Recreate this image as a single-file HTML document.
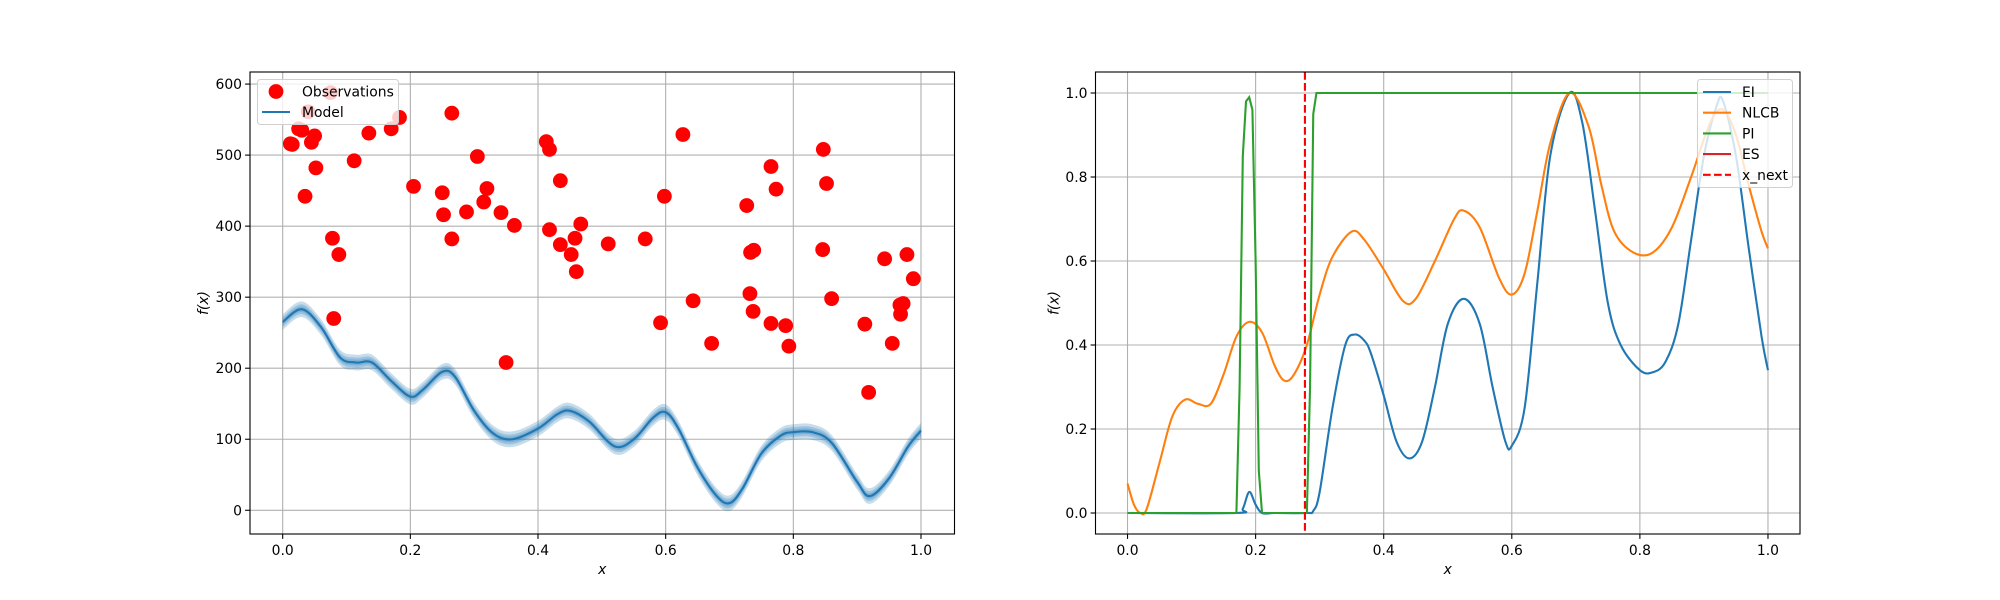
<!DOCTYPE html>
<html><head><meta charset="utf-8"><style>
html,body{margin:0;padding:0;background:#fff}
svg{display:block;font-family:"DejaVu Sans","Liberation Sans",sans-serif}
</style></head><body>
<svg id="fig" width="2000" height="600" viewBox="0 0 2000 600" xmlns="http://www.w3.org/2000/svg">
<g id="left"></g>
<g id="right"></g>
</svg>
<script>
// ---- data: left chart ----
const obsX=[0.012,0.015,0.025,0.03,0.035,0.04,0.045,0.05,0.052,0.075,0.078,0.08,0.088,0.112,0.135,0.17,0.183,0.205,0.25,0.252,0.265,0.265,0.288,0.305,0.315,0.32,0.342,0.35,0.363,0.413,0.418,0.418,0.435,0.435,0.452,0.458,0.46,0.467,0.51,0.568,0.592,0.598,0.627,0.643,0.672,0.727,0.732,0.733,0.738,0.737,0.765,0.765,0.773,0.788,0.793,0.847,0.846,0.852,0.86,0.912,0.918,0.943,0.955,0.967,0.968,0.972,0.978,0.988];
const obsY=[516,515,537,535,442,561,518,527,482,588,383,270,360,492,531,537,553,456,447,416,559,382,420,498,434,453,419,208,401,519,508,395,464,374,360,383,336,403,375,382,264,442,529,295,235,429,305,363,366,280,484,263,452,260,231,508,367,460,298,262,166,354,235,289,276,291,360,326];
const modelX=[0,0.03,0.06,0.09,0.115,0.14,0.17,0.2,0.22,0.25,0.27,0.3,0.33,0.36,0.4,0.43,0.45,0.48,0.52,0.55,0.58,0.6,0.62,0.65,0.68,0.7,0.72,0.75,0.78,0.8,0.83,0.86,0.9,0.92,0.95,0.98,1.0];
const modelY=[265,283,258,215,208,208,182,160,170,195,188,140,108,100,115,135,140,125,90,100,130,138,115,60,20,10,30,80,105,110,110,95,40,20,45,90,112];
const leftXTicks=["0.0","0.2","0.4","0.6","0.8","1.0"];
const leftYTicks=["0","100","200","300","400","500","600"];
// ---- data: right chart ----
const eiX=[0,0.17,0.18,0.19,0.2,0.21,0.23,0.28,0.29,0.3,0.32,0.34,0.355,0.37,0.38,0.4,0.42,0.44,0.46,0.48,0.5,0.525,0.55,0.57,0.59,0.6,0.62,0.64,0.66,0.69,0.71,0.73,0.75,0.77,0.8,0.82,0.84,0.86,0.88,0.9,0.92,0.93,0.95,0.97,0.99,1.0];
const eiY=[0,0,0.01,0.05,0.02,0,0,0,0.005,0.05,0.25,0.4,0.425,0.41,0.38,0.28,0.17,0.13,0.17,0.3,0.45,0.51,0.45,0.3,0.17,0.16,0.25,0.55,0.85,1.0,0.93,0.72,0.5,0.4,0.34,0.335,0.36,0.45,0.65,0.85,0.97,0.98,0.85,0.63,0.42,0.34];
const nlcbX=[0,0.01,0.02,0.03,0.05,0.07,0.09,0.11,0.13,0.15,0.17,0.19,0.21,0.23,0.245,0.26,0.28,0.3,0.32,0.35,0.37,0.4,0.43,0.45,0.48,0.51,0.525,0.55,0.58,0.6,0.62,0.64,0.66,0.69,0.72,0.74,0.76,0.79,0.82,0.85,0.88,0.91,0.93,0.95,0.97,0.99,1.0];
const nlcbY=[0.07,0.02,0,0.01,0.12,0.23,0.27,0.26,0.26,0.33,0.42,0.455,0.43,0.35,0.315,0.33,0.4,0.52,0.61,0.67,0.65,0.58,0.505,0.51,0.6,0.7,0.72,0.68,0.56,0.52,0.57,0.72,0.88,1.0,0.92,0.78,0.67,0.62,0.62,0.68,0.8,0.93,0.96,0.9,0.78,0.67,0.63];
const piX=[0,0.17,0.175,0.18,0.185,0.19,0.195,0.2,0.205,0.21,0.28,0.285,0.29,0.295,1.0];
const piY=[0,0,0.3,0.85,0.98,0.99,0.96,0.6,0.1,0,0,0.3,0.95,1.0,1.0];
const xNext=[0.277];
const rightXTicks=["0.0","0.2","0.4","0.6","0.8","1.0"];
const rightYTicks=["0.0","0.2","0.4","0.6","0.8","1.0"];

const NS="http://www.w3.org/2000/svg";
function mk(parent,tag,attrs){const e=document.createElementNS(NS,tag);for(const k in attrs)e.setAttribute(k,attrs[k]);parent.appendChild(e);return e;}
function smooth(pts){let d=`M${pts[0][0]},${pts[0][1]}`;for(let i=0;i<pts.length-1;i++){const p0=pts[Math.max(0,i-1)],p1=pts[i],p2=pts[i+1],p3=pts[Math.min(pts.length-1,i+2)];
d+=` C${p1[0]+(p2[0]-p0[0])/6},${p1[1]+(p2[1]-p0[1])/6} ${p2[0]-(p3[0]-p1[0])/6},${p2[1]-(p3[1]-p1[1])/6} ${p2[0]},${p2[1]}`;}return d;}

function axes(g,L,R,T,B,xmin,xmax,ymin,ymax,xt,yt,name){
  const sx=v=>L+(v-xmin)/(xmax-xmin)*(R-L), sy=v=>B-(v-ymin)/(ymax-ymin)*(B-T);
  xt.forEach(t=>{const v=parseFloat(t),x=sx(v);
    const gl=mk(g,'line',{x1:x,x2:x,y1:T,y2:B,stroke:'#b0b0b0','stroke-width':1.1});
    
    mk(g,'line',{x1:x,x2:x,y1:B,y2:B+4.9,stroke:'#000','stroke-width':1.1});
    const tx=mk(g,'text',{x:x,y:B+21,'font-size':13.9,'text-anchor':'middle',fill:'#000'});tx.textContent=t;
    });
  yt.forEach(t=>{const v=parseFloat(t),y=sy(v);
    const gl=mk(g,'line',{x1:L,x2:R,y1:y,y2:y,stroke:'#b0b0b0','stroke-width':1.1});
    
    mk(g,'line',{x1:L-4.9,x2:L,y1:y,y2:y,stroke:'#000','stroke-width':1.1});
    const tx=mk(g,'text',{x:L-8,y:y+5,'font-size':13.9,'text-anchor':'end',fill:'#000'});tx.textContent=t;
    });
  const xl=mk(g,'text',{x:(L+R)/2,y:B+40,'font-size':13.9,'text-anchor':'middle','font-style':'italic'});xl.textContent='x';
  
  const yl=mk(g,'text',{x:0,y:0,'font-size':13.9,'text-anchor':'middle','font-style':'italic',transform:`translate(${L-(name==='left'?42:37)},${(T+B)/2}) rotate(-90)`});yl.textContent='f(x)';
  
  return {sx,sy};
}
function frame(g,L,R,T,B){const f=mk(g,'rect',{x:L,y:T,width:R-L,height:B-T,fill:'none',stroke:'#000','stroke-width':1.1});
  }

// LEFT
const gl=document.getElementById('left');
const LA={L:250,R:954.5,T:72,B:534};
const la=axes(gl,LA.L,LA.R,LA.T,LA.B,-0.0512,1.0525,-33.4,617,leftXTicks,leftYTicks,'left');
[11,7,4].forEach((s,i)=>{
  const up=modelX.map((x,j)=>[la.sx(x),la.sy(modelY[j]+s)]);
  const dn=modelX.map((x,j)=>[la.sx(x),la.sy(modelY[j]-s)]).reverse();
  const band=mk(gl,'path',{d:smooth(up)+' L'+smooth(dn).slice(1)+' Z',fill:'#1f77b4',opacity:0.25});
  
});
const ml=mk(gl,'path',{d:smooth(modelX.map((x,j)=>[la.sx(x),la.sy(modelY[j])])),fill:'none',stroke:'#1f77b4','stroke-width':2.1});

obsX.forEach((x,i)=>{const c=mk(gl,'circle',{cx:la.sx(x),cy:la.sy(obsY[i]),r:7.4,fill:'#ff0000'});
  });
frame(gl,LA.L,LA.R,LA.T,LA.B);
// left legend
const lg=mk(gl,'g',{});
mk(lg,'rect',{x:257.5,y:79.5,width:141,height:45,rx:3,fill:'#fff','fill-opacity':0.8,stroke:'#d0d0d0'});
mk(lg,'circle',{cx:276,cy:91.5,r:7.4,fill:'#ff0000'});
let t=mk(lg,'text',{x:302,y:96.5,'font-size':13.9});t.textContent='Observations';

mk(lg,'line',{x1:262,x2:290,y1:112,y2:112,stroke:'#1f77b4','stroke-width':2.1});
t=mk(lg,'text',{x:302,y:117,'font-size':13.9});t.textContent='Model';


// RIGHT
const gr=document.getElementById('right');
const RA={L:1095.5,R:1800,T:72,B:534};
const ra=axes(gr,RA.L,RA.R,RA.T,RA.B,-0.05,1.05,-0.05,1.05,rightXTicks,rightYTicks,'right');
const ei=mk(gr,'path',{d:smooth(eiX.map((x,j)=>[ra.sx(x),ra.sy(eiY[j])])),fill:'none',stroke:'#1f77b4','stroke-width':2.1});

const nl=mk(gr,'path',{d:smooth(nlcbX.map((x,j)=>[ra.sx(x),ra.sy(nlcbY[j])])),fill:'none',stroke:'#ff7f0e','stroke-width':2.1});

const pi=mk(gr,'path',{d:'M'+piX.map((x,j)=>ra.sx(x)+','+ra.sy(piY[j])).join(' L'),fill:'none',stroke:'#2ca02c','stroke-width':2.1});

xNext.forEach(v=>{const l=mk(gr,'line',{x1:ra.sx(v),x2:ra.sx(v),y1:RA.T,y2:RA.B,stroke:'#ff0000','stroke-width':2.1,'stroke-dasharray':'7.7,3.3'});
  });
frame(gr,RA.L,RA.R,RA.T,RA.B);
const rg=mk(gr,'g',{});
mk(rg,'rect',{x:1697.5,y:79.5,width:95,height:108,rx:3,fill:'#fff','fill-opacity':0.8,stroke:'#d0d0d0'});
const items=[['EI','#1f77b4',''],['NLCB','#ff7f0e',''],['PI','#2ca02c',''],['ES','#d62728',''],['x_next','#ff0000','7.7,3.3']];
items.forEach((it,i)=>{const y=92+i*20.7;
  const a={x1:1703,x2:1731,y1:y,y2:y,stroke:it[1],'stroke-width':2.1};if(it[2])a['stroke-dasharray']=it[2];
  mk(rg,'line',a);
  const tx=mk(rg,'text',{x:1742,y:y+5,'font-size':13.9});tx.textContent=it[0];
  });
</script>
</body></html>
